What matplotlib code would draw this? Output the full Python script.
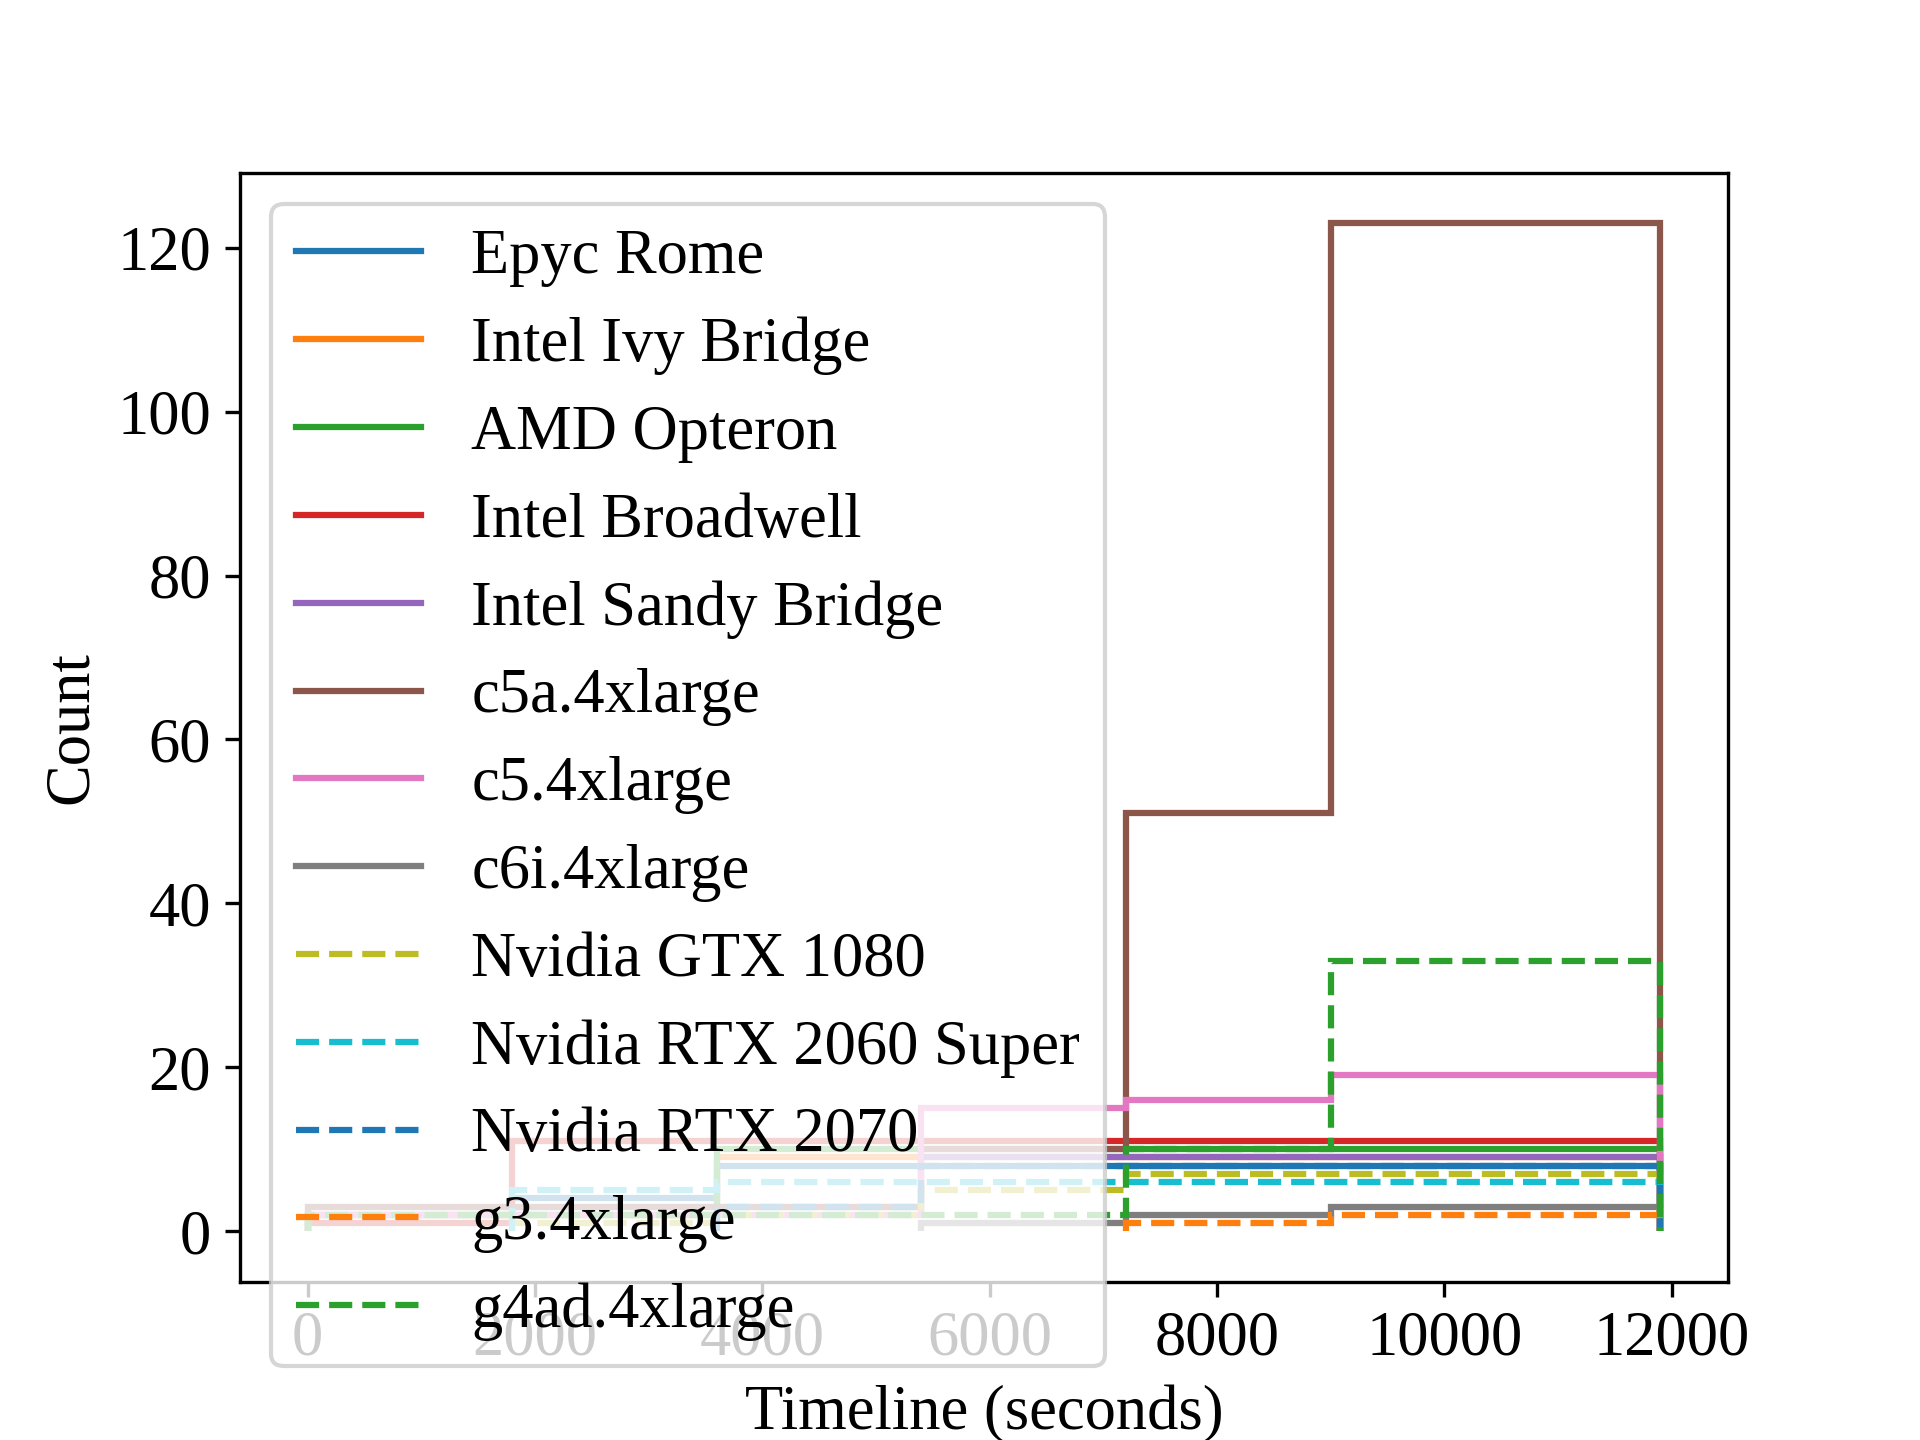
import numpy as np
import matplotlib
matplotlib.use('Agg')
import matplotlib.pyplot as plt

plt.rcParams['font.family'] = ['Liberation Serif', 'DejaVu Serif']
plt.rcParams['font.size'] = 15

# bin edges (seconds)
edges = [0, 1800, 3600, 5400, 7200, 9000, 11900]

# counts per bin, nan = series has no bar there yet
nan = np.nan
epyc_rome = [2, 4, 8, 8, 8, 8]
ivy_bridge = [2, 2, 9, 9, 9, 9]
amd_opteron = [2, 2, 10, 10, 10, 10]
broadwell = [1, 11, 11, 11, 11, 11]
sandy_bridge = [3, 3, 3, 9, 9, 9]
c5a_4xl = [3, 3, 3, 10, 51, 123]
c5_4xl = [2, 2, 2, 15, 16, 19]
c6i_4xl = [nan, nan, nan, 1, 2, 3]
gtx_1080 = [nan, 1, 2, 5, 7, 7]
rtx_2060s = [nan, 5, 6, 6, 6, 6]
rtx_2070 = [nan, nan, 3, 8, 8, 8]
g3_4xl = [nan, nan, nan, nan, 1, 2]
g4ad_4xl = [2, 2, 2, 2, 10, 33]

names = ['Epyc Rome', 'Intel Ivy Bridge', 'AMD Opteron', 'Intel Broadwell',
         'Intel Sandy Bridge', 'c5a.4xlarge', 'c5.4xlarge', 'c6i.4xlarge',
         'Nvidia GTX 1080', 'Nvidia RTX 2060 Super', 'Nvidia RTX 2070',
         'g3.4xlarge', 'g4ad.4xlarge']
series = [epyc_rome, ivy_bridge, amd_opteron, broadwell, sandy_bridge,
          c5a_4xl, c5_4xl, c6i_4xl, gtx_1080, rtx_2060s, rtx_2070,
          g3_4xl, g4ad_4xl]
styles = ['-'] * 8 + ['--'] * 5

fig, ax = plt.subplots(figsize=(6.4, 4.8), dpi=300)
for i, (vals, name, ls) in enumerate(zip(series, names, styles)):
    vals = np.array(vals, dtype=float)
    # skip empty leading bins, like the original outlines
    k = int(np.argmax(~np.isnan(vals)))
    ax.stairs(vals[k:], edges[k:], color='C%d' % (i % 10), linestyle=ls,
              linewidth=1.5, label=name)

ax.set_xlabel('Timeline (seconds)')
ax.set_ylabel('Count')
# plain 5% margins around the data
ax.set_xlim(-595, 12495)
ax.set_ylim(-6.15, 129.15)
ax.legend(loc='upper left', labelspacing=0.475)
fig.savefig('out.png', dpi=300)
